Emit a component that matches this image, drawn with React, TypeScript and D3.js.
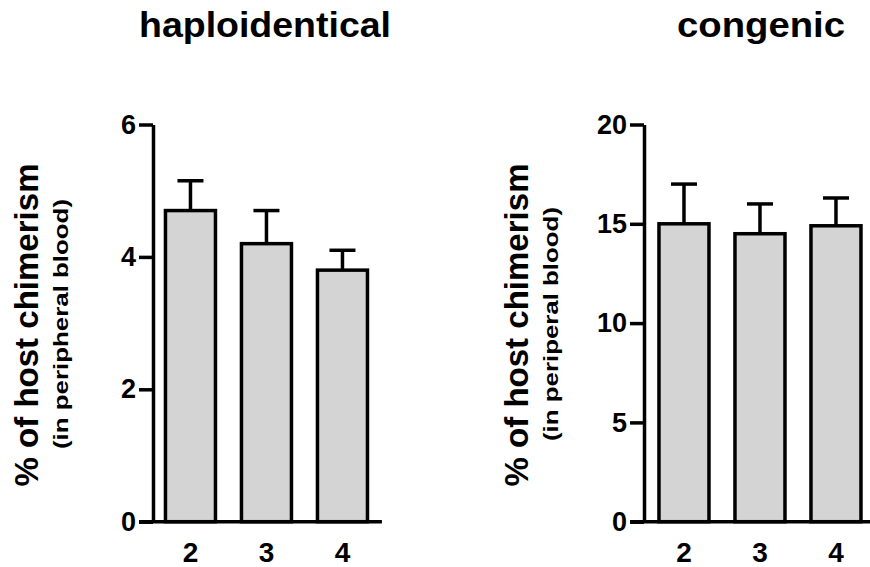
import React, { useEffect, useRef } from "react";
import * as d3 from "d3";

const groups = ["2", "3", "4"];

const haploMeans = [4.7, 4.2, 3.8];
const haploSem = [0.45, 0.5, 0.3];
const haploTicks = [0, 2, 4, 6];

const congenicMeans = [15.0, 14.5, 14.9];
const congenicSem = [2.0, 1.5, 1.4];
const congenicTicks = [0, 5, 10, 15, 20];

const FONT = "'Liberation Sans', Arial, Helvetica, sans-serif";

const panels = [
  {
    title: "haploidentical",
    titleX: 265,
    titleLen: 252,
    subtitle: "(in peripheral blood)",
    subLen: 250,
    labelX: 38,
    subX: 68,
    axisX: 153,
    outer: 0.164,
    means: haploMeans,
    sem: haploSem,
    ticks: haploTicks,
  },
  {
    title: "congenic",
    titleX: 761,
    titleLen: 168,
    subtitle: "(in periperal blood)",
    subLen: 234,
    labelX: 528,
    subX: 558,
    axisX: 644,
    outer: 0.197,
    means: congenicMeans,
    sem: congenicSem,
    ticks: congenicTicks,
  },
];

const App = () => {
  const svgRef = useRef<SVGSVGElement>(null);

  useEffect(() => {
    const width = 870;
    const height = 567;
    const yTop = 124.5;
    const yBottom = 521.7;
    const step = 76;
    const inner = 0.342;

    const root = d3.select(svgRef.current);
    root.selectAll("*").remove();
    root.attr("width", width).attr("height", height);

    panels.forEach((p) => {
      const g = root.append("g");
      const yMax = p.ticks[p.ticks.length - 1];

      const y = d3.scaleLinear().domain([0, yMax]).range([yBottom, yTop]);
      const r1 = p.axisX + step * (groups.length - inner + 2 * p.outer);
      const x = d3
        .scaleBand()
        .domain(groups)
        .range([p.axisX, r1])
        .paddingInner(inner)
        .paddingOuter(p.outer);

      // title
      g.append("text")
        .attr("x", p.titleX)
        .attr("y", 37)
        .attr("text-anchor", "middle")
        .attr("font-family", FONT)
        .attr("font-weight", "bold")
        .attr("font-size", 35)
        .attr("textLength", p.titleLen)
        .attr("lengthAdjust", "spacingAndGlyphs")
        .text(p.title);

      // y labels
      g.append("text")
        .attr("transform", `translate(${p.labelX},325) rotate(-90)`)
        .attr("text-anchor", "middle")
        .attr("font-family", FONT)
        .attr("font-weight", "bold")
        .attr("font-size", 33)
        .attr("textLength", 323)
        .attr("lengthAdjust", "spacingAndGlyphs")
        .text("% of host chimerism");

      g.append("text")
        .attr("transform", `translate(${p.subX},324) rotate(-90)`)
        .attr("text-anchor", "middle")
        .attr("font-family", FONT)
        .attr("font-weight", "bold")
        .attr("font-size", 21)
        .attr("textLength", p.subLen)
        .attr("lengthAdjust", "spacingAndGlyphs")
        .text(p.subtitle);

      // bars
      g.selectAll(".bar")
        .data(p.means)
        .enter()
        .append("rect")
        .attr("x", (d, i) => x(groups[i]) as number)
        .attr("y", (d) => y(d))
        .attr("width", x.bandwidth())
        .attr("height", (d) => y(0) - y(d))
        .attr("fill", "#d4d4d4")
        .attr("stroke", "#000")
        .attr("stroke-width", 3.5);

      // error bars (upper only)
      const cx = (i: number) => (x(groups[i]) as number) + x.bandwidth() / 2;
      p.means.forEach((m, i) => {
        g.append("line")
          .attr("x1", cx(i))
          .attr("x2", cx(i))
          .attr("y1", y(m))
          .attr("y2", y(m + p.sem[i]))
          .attr("stroke", "#000")
          .attr("stroke-width", 3.5);
        g.append("line")
          .attr("x1", cx(i) - 13)
          .attr("x2", cx(i) + 13)
          .attr("y1", y(m + p.sem[i]))
          .attr("y2", y(m + p.sem[i]))
          .attr("stroke", "#000")
          .attr("stroke-width", 3.5);
      });

      // x axis line
      g.append("line")
        .attr("x1", p.axisX - 14)
        .attr("x2", r1 + 2)
        .attr("y1", yBottom)
        .attr("y2", yBottom)
        .attr("stroke", "#000")
        .attr("stroke-width", 3.5);

      const xAxis = g
        .append("g")
        .attr("transform", `translate(0,${yBottom})`)
        .call(d3.axisBottom(x).tickSize(0).tickPadding(20));
      xAxis.select(".domain").remove();
      xAxis
        .selectAll("text")
        .attr("font-family", FONT)
        .attr("font-weight", "bold")
        .attr("font-size", 28)
        .attr("fill", "#000");

      const yAxis = g
        .append("g")
        .attr("transform", `translate(${p.axisX},0)`)
        .call(
          d3
            .axisLeft(y)
            .tickValues(p.ticks)
            .tickSize(14)
            .tickSizeOuter(0)
            .tickPadding(3)
            .tickFormat(d3.format("d"))
        );
      yAxis.selectAll("line, path").attr("stroke", "#000").attr("stroke-width", 3.5);
      yAxis
        .selectAll("text")
        .attr("font-family", FONT)
        .attr("font-weight", "bold")
        .attr("font-size", 27)
        .attr("fill", "#000");
    });
  }, []);

  return (
    <svg
      ref={svgRef}
      style={{ position: "absolute", left: 0, top: 0, background: "#fff" }}
    ></svg>
  );
};

export default App;
